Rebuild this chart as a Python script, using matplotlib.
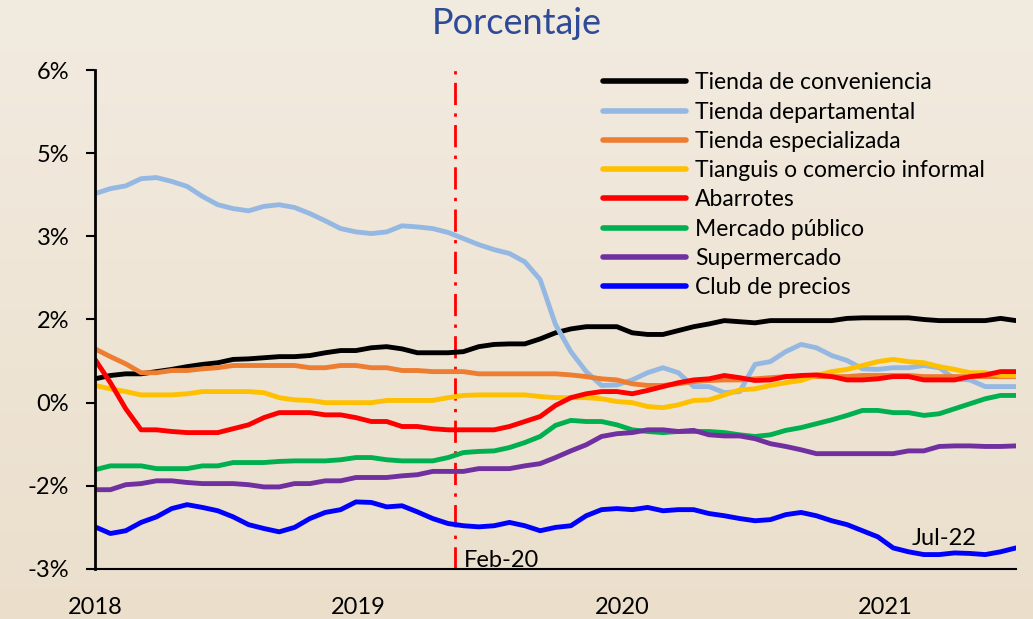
import numpy as np
import matplotlib
matplotlib.use("Agg")
import matplotlib.pyplot as plt

plt.rcParams["font.family"] = ["Lato", "DejaVu Sans"]

# x: evenly spaced periods, 2018 to mid 2021 on the category axis
n_points = 61
x_start, x_end = 2018.0, 2021.495
feb20 = 2019.366

series_names = [
    "Tienda de conveniencia",
    "Tienda departamental",
    "Tienda especializada",
    "Tianguis o comercio informal",
    "Abarrotes",
    "Mercado público",
    "Supermercado",
    "Club de precios",
]
series_colors = ["#000000", "#95B8E3", "#ED7D31", "#FFC000",
                 "#FF0000", "#00B050", "#7030A0", "#0000FF"]

conveniencia = [0.43, 0.49, 0.52, 0.52, 0.56, 0.60, 0.65, 0.69, 0.72, 0.78,
                0.79, 0.81, 0.83, 0.83, 0.85, 0.90, 0.94, 0.94, 0.99, 1.01,
                0.97, 0.90, 0.90, 0.90, 0.92, 1.01, 1.05, 1.06, 1.06, 1.15,
                1.26, 1.33, 1.37, 1.37, 1.37, 1.26, 1.23, 1.23, 1.30, 1.37,
                1.42, 1.48, 1.46, 1.44, 1.48, 1.48, 1.48, 1.48, 1.48, 1.52,
                1.53, 1.53, 1.53, 1.53, 1.50, 1.48, 1.48, 1.48, 1.48, 1.52, 1.48]
departamental = [3.77, 3.86, 3.91, 4.04, 4.06, 3.99, 3.90, 3.72, 3.57, 3.50,
                 3.46, 3.54, 3.57, 3.52, 3.41, 3.28, 3.14, 3.08, 3.05, 3.08,
                 3.19, 3.17, 3.14, 3.07, 2.96, 2.85, 2.76, 2.69, 2.54, 2.22,
                 1.41, 0.92, 0.56, 0.31, 0.32, 0.41, 0.54, 0.63, 0.54, 0.29,
                 0.29, 0.18, 0.20, 0.69, 0.74, 0.92, 1.05, 0.99, 0.85, 0.76,
                 0.61, 0.60, 0.63, 0.63, 0.67, 0.63, 0.43, 0.41, 0.29, 0.29, 0.29]
especializada = [0.97, 0.83, 0.70, 0.54, 0.54, 0.58, 0.58, 0.61, 0.63, 0.67,
                 0.67, 0.67, 0.67, 0.67, 0.63, 0.63, 0.67, 0.67, 0.63, 0.63,
                 0.58, 0.58, 0.56, 0.56, 0.56, 0.52, 0.52, 0.52, 0.52, 0.52,
                 0.52, 0.50, 0.47, 0.43, 0.41, 0.34, 0.31, 0.31, 0.34, 0.38,
                 0.40, 0.41, 0.41, 0.43, 0.45, 0.47, 0.47, 0.47, 0.47, 0.47,
                 0.49, 0.49, 0.49, 0.49, 0.47, 0.47, 0.47, 0.47, 0.47, 0.47, 0.47]
tianguis = [0.31, 0.25, 0.20, 0.14, 0.14, 0.14, 0.16, 0.20, 0.20, 0.20,
            0.20, 0.18, 0.09, 0.05, 0.04, 0.00, 0.00, 0.00, 0.00, 0.04,
            0.04, 0.04, 0.04, 0.09, 0.13, 0.14, 0.14, 0.14, 0.14, 0.11,
            0.09, 0.09, 0.09, 0.07, 0.02, 0.00, -0.07, -0.09, -0.04, 0.04,
            0.05, 0.14, 0.23, 0.25, 0.31, 0.36, 0.40, 0.49, 0.56, 0.60,
            0.67, 0.74, 0.78, 0.74, 0.72, 0.65, 0.60, 0.54, 0.54, 0.49, 0.49]
abarrotes = [0.78, 0.36, -0.11, -0.49, -0.49, -0.52, -0.54, -0.54, -0.54, -0.47,
             -0.40, -0.27, -0.18, -0.18, -0.18, -0.22, -0.22, -0.27, -0.34, -0.34,
             -0.43, -0.43, -0.47, -0.49, -0.49, -0.49, -0.49, -0.43, -0.34, -0.25,
             -0.05, 0.09, 0.16, 0.20, 0.20, 0.16, 0.22, 0.29, 0.36, 0.41,
             0.43, 0.49, 0.45, 0.40, 0.41, 0.47, 0.49, 0.50, 0.47, 0.41,
             0.41, 0.43, 0.47, 0.47, 0.41, 0.41, 0.41, 0.47, 0.50, 0.56, 0.56]
mercado = [-1.21, -1.14, -1.14, -1.14, -1.19, -1.19, -1.19, -1.14, -1.14, -1.08,
           -1.08, -1.08, -1.06, -1.05, -1.05, -1.05, -1.03, -0.99, -0.99, -1.03,
           -1.05, -1.05, -1.05, -0.99, -0.90, -0.88, -0.87, -0.81, -0.72, -0.61,
           -0.41, -0.32, -0.34, -0.34, -0.40, -0.49, -0.52, -0.54, -0.52, -0.52,
           -0.52, -0.54, -0.58, -0.61, -0.58, -0.50, -0.45, -0.38, -0.31, -0.23,
           -0.14, -0.14, -0.18, -0.18, -0.23, -0.20, -0.11, -0.02, 0.07, 0.13, 0.13]
supermercado = [-1.57, -1.57, -1.48, -1.46, -1.41, -1.41, -1.44, -1.46, -1.46, -1.46,
                -1.48, -1.52, -1.52, -1.46, -1.46, -1.41, -1.41, -1.35, -1.35, -1.35,
                -1.32, -1.30, -1.24, -1.24, -1.24, -1.19, -1.19, -1.19, -1.14, -1.10,
                -0.99, -0.87, -0.76, -0.61, -0.56, -0.54, -0.49, -0.49, -0.52, -0.50,
                -0.58, -0.60, -0.60, -0.65, -0.74, -0.79, -0.85, -0.92, -0.92, -0.92,
                -0.92, -0.92, -0.92, -0.87, -0.87, -0.79, -0.78, -0.78, -0.79, -0.79, -0.78]
club_precios = [-2.24, -2.36, -2.31, -2.16, -2.06, -1.91, -1.84, -1.89, -1.95, -2.06,
                -2.20, -2.27, -2.33, -2.25, -2.09, -1.98, -1.93, -1.79, -1.80, -1.88,
                -1.86, -1.97, -2.09, -2.18, -2.22, -2.24, -2.22, -2.16, -2.22, -2.31,
                -2.25, -2.22, -2.04, -1.93, -1.91, -1.93, -1.89, -1.95, -1.93, -1.93,
                -2.00, -2.04, -2.09, -2.13, -2.11, -2.02, -1.98, -2.04, -2.13, -2.20,
                -2.31, -2.42, -2.62, -2.69, -2.74, -2.74, -2.71, -2.72, -2.74, -2.69, -2.62]

series_values = [conveniencia, departamental, especializada, tianguis,
                 abarrotes, mercado, supermercado, club_precios]

y_ticks = [-3, -1.5, 0, 1.5, 3, 4.5, 6]
y_tick_labels = ["-3%", "-2%", "0%", "2%", "3%", "5%", "6%"]
x_ticks = [2018, 2019, 2020, 2021]
x_tick_labels = ["2018", "2019", "2020", "2021"]


def main():
    fig = plt.figure(figsize=(10.33, 6.19), dpi=100)

    # beige gradient background
    bg = fig.add_axes([0, 0, 1, 1], zorder=-1)
    top = np.array([242, 235, 224]) / 255
    bottom = np.array([235, 223, 204]) / 255
    t = np.linspace(0, 1, 256)[:, None]
    grad = top + (bottom - top) * t
    bg.imshow(grad[:, None, :].repeat(2, axis=1), aspect="auto",
              extent=[0, 1, 0, 1])
    bg.axis("off")

    ax = fig.add_axes([0.092, 0.0808, 0.8915, 0.8061])
    ax.patch.set_alpha(0)

    x = np.linspace(x_start, x_end, n_points)
    for name, color, vals in zip(series_names, series_colors, series_values):
        ax.plot(x, vals, color=color, lw=3.5, label=name,
                solid_capstyle="round")

    ax.axvline(feb20, color="#FF0000", lw=2, ls=(0, (8, 3, 1.2, 3)),
               zorder=1)

    ax.set_xlim(x_start, x_end)
    ax.set_ylim(-3, 6)
    ax.set_yticks(y_ticks)
    ax.set_yticklabels(y_tick_labels)
    ax.set_xticks(x_ticks)
    ax.set_xticklabels(x_tick_labels)
    ax.tick_params(axis="y", length=6.5, width=1.5, pad=12, labelsize=17)
    ax.tick_params(axis="x", length=0, pad=20, labelsize=17)

    for side in ["top", "right"]:
        ax.spines[side].set_visible(False)
    ax.spines["left"].set_linewidth(2)
    ax.spines["bottom"].set_linewidth(1.5)

    ax.text(2019.40, -2.85, "Feb-20", fontsize=17, va="center", ha="left")
    ax.text(2021.1, -2.45, "Jul-22", fontsize=17, va="center", ha="left")

    fig.text(0.5, 0.962, "Porcentaje", ha="center", va="center",
             fontsize=26, color="#2F4B98")

    leg = ax.legend(loc="upper left", bbox_to_anchor=(0.584, 0.883),
                    bbox_transform=fig.transFigure, frameon=False,
                    fontsize=16.5, handlelength=3.6, handletextpad=0.4,
                    labelspacing=0.36, borderpad=0, borderaxespad=0)
    for line in leg.get_lines():
        line.set_linewidth(4)

    fig.savefig("out.png", dpi=100)


if __name__ == "__main__":
    main()
